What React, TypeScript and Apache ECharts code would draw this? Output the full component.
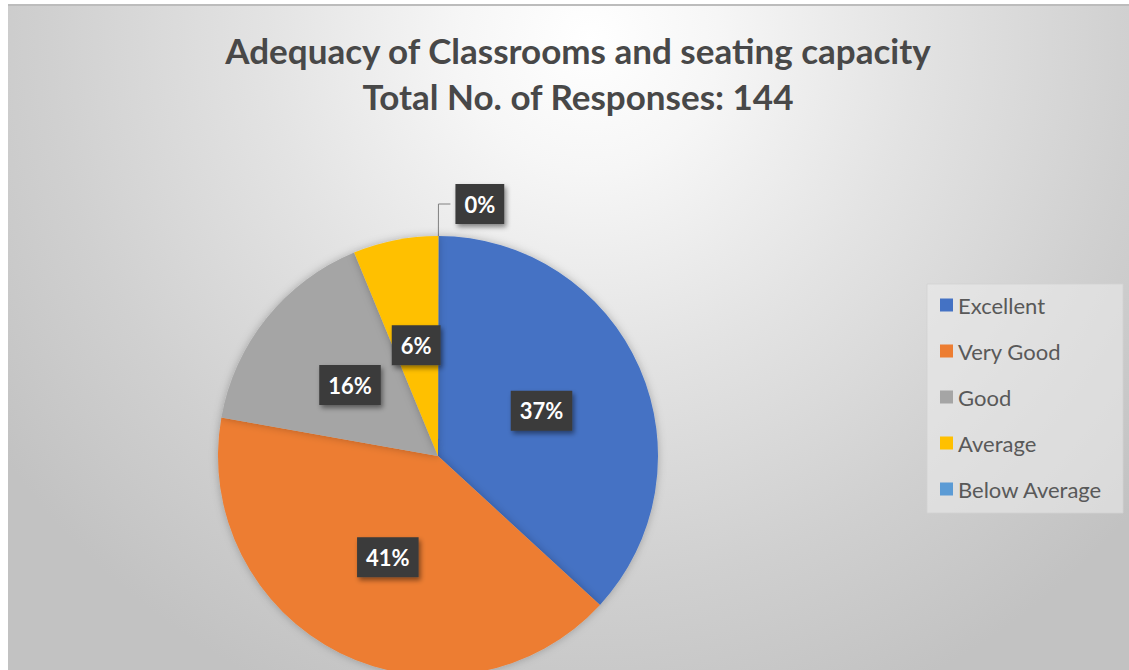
import React, { useEffect, useRef } from "react";
import * as echarts from "echarts";

const titleLines = ["Adequacy of Classrooms and seating capacity", "Total No. of Responses: 144"];
const categories = ["Excellent", "Very Good", "Good", "Average", "Below Average"];
// response counts out of 144 (37%, 41%, 16%, 6%, 0%)
const counts = [53, 59, 23, 9, 0];
const colors = ["#4472C4", "#ED7D31", "#A5A5A5", "#FFC000", "#5B9BD5"];

export default function App() {
  const ref = useRef<HTMLDivElement>(null);
  useEffect(() => {
    if (!ref.current) return;
    const chart = echarts.init(ref.current, undefined, { renderer: "svg" });
    const labelBox = {
      color: "#ffffff",
      fontWeight: "bold" as const,
      fontSize: 22,
      fontFamily: "Lato",
      backgroundColor: "#3b3b3b",
      padding: [10, 9, 8, 9],
      shadowColor: "rgba(0,0,0,0.45)",
      shadowBlur: 5,
      shadowOffsetX: 2,
      shadowOffsetY: 3,
    };
    const seriesData = categories.map((name, i) =>
      counts[i] === 0
        ? {
            name,
            value: counts[i],
            itemStyle: { color: colors[i] },
            label: { position: "outside", ...labelBox },
            labelLine: { show: true, length: 32, length2: 12, lineStyle: { color: "#808080", width: 1 } },
          }
        : { name, value: counts[i], itemStyle: { color: colors[i] } }
    );
    chart.setOption({
      animation: false,
      graphic: [
        {
          type: "rect",
          z: -10,
          silent: true,
          shape: { x: 8, y: 5, width: 1121, height: 665 },
          style: {
            fill: {
              type: "radial",
              x: 590,
              y: 40,
              r: 720,
              global: true,
              colorStops: [
                { offset: 0, color: "#ffffff" },
                { offset: 0.18, color: "#f6f6f6" },
                { offset: 0.45, color: "#e3e3e3" },
                { offset: 0.75, color: "#d0d0d0" },
                { offset: 1, color: "#c2c2c2" },
              ],
            },
          },
        },
        {
          type: "line",
          z: -9,
          silent: true,
          shape: { x1: 8, y1: 5, x2: 1129, y2: 5 },
          style: { stroke: "#bcbcbc", lineWidth: 2 },
        },
        {
          type: "rect",
          z: -8,
          silent: true,
          shape: { x: 927, y: 284, width: 196, height: 229 },
          style: { fill: "rgba(236,236,236,0.55)", stroke: "rgba(210,210,210,0.8)", lineWidth: 1 },
        },
      ],
      title: {
        text: titleLines.join("\n"),
        left: 573,
        top: 22,
        textAlign: "center",
        textStyle: {
          fontFamily: "Lato",
          fontWeight: "bold",
          fontSize: 35,
          lineHeight: 46,
          color: "#484848",
        },
      },
      legend: {
        orient: "vertical",
        left: 935,
        top: 289,
        icon: "rect",
        itemWidth: 13,
        itemHeight: 13,
        itemGap: 24,
        data: categories,
        textStyle: { fontFamily: "Lato", fontSize: 22, color: "#595959" },
      },
      series: [
        {
          type: "pie",
          center: [438, 456],
          radius: 220,
          startAngle: 89.9,
          clockwise: true,
          avoidLabelOverlap: false,
          percentPrecision: 0,
          itemStyle: { shadowColor: "rgba(0,0,0,0.25)", shadowBlur: 8 },
          label: { show: true, position: "inside", formatter: "{d}%", ...labelBox },
          labelLine: { show: false },
          data: seriesData,
        },
      ],
    });
    return () => chart.dispose();
  }, []);
  return <div ref={ref} style={{ position: "absolute", left: 0, top: 0, width: 1129, height: 670 }} />;
}
